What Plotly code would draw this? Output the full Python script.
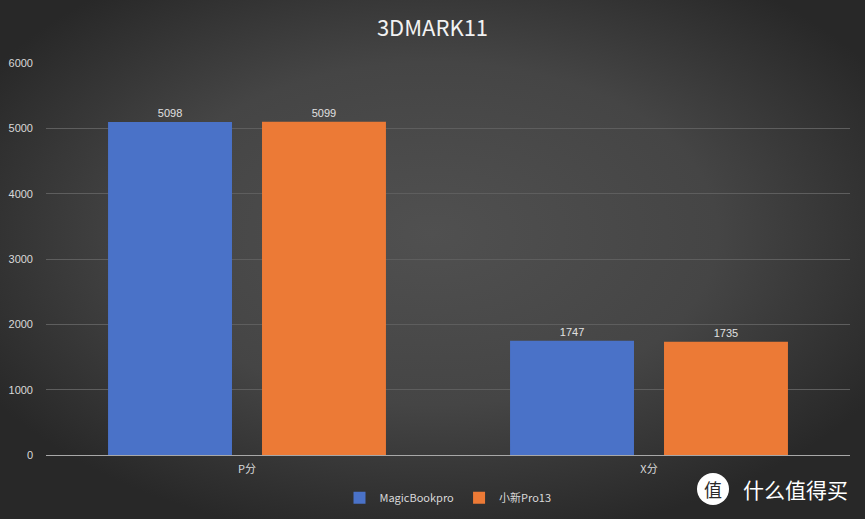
import base64
import plotly.graph_objects as go

categories = ["P分", "X分"]
series_names = ["MagicBookpro", "小新Pro13"]
magicbook = [5098, 1747]
xiaoxin = [5099, 1735]
y_ticks = [0, 1000, 2000, 3000, 4000, 5000, 6000]
title = "3DMARK11"

W, H = 865, 519
ML, MR, MT, MB = 46, 15, 63, 64
PW, PH = W - ML - MR, H - MT - MB

svg = f'''<svg xmlns="http://www.w3.org/2000/svg" width="{W}" height="{H}" viewBox="0 0 {W} {H}" preserveAspectRatio="none">
<defs><radialGradient id="g" cx="50%" cy="45%" r="60%">
<stop offset="0%" stop-color="#505050"/><stop offset="55%" stop-color="#454545"/><stop offset="100%" stop-color="#282828"/>
</radialGradient></defs><rect width="{W}" height="{H}" fill="url(#g)"/></svg>'''
bg_uri = "data:image/svg+xml;base64," + base64.b64encode(svg.encode()).decode()

tick_font = dict(family="Liberation Sans, DejaVu Sans", size=11, color="#d9d9d9")
label_font = dict(family="Liberation Sans, DejaVu Sans", size=11, color="#e0e0e0")

fig = go.Figure()
fig.add_trace(go.Bar(
    name=series_names[0], x=categories, y=magicbook,
    marker=dict(color="#4a72c8", line=dict(width=0)),
    text=[str(v) for v in magicbook], textposition="outside",
    textfont=label_font, cliponaxis=False,
))
fig.add_trace(go.Bar(
    name=series_names[1], x=categories, y=xiaoxin,
    marker=dict(color="#ec7a36", line=dict(width=0)),
    text=[str(v) for v in xiaoxin], textposition="outside",
    textfont=label_font, cliponaxis=False,
))

wm_y = -(489 - 455) / PH
fig.update_layout(
    width=W, height=H,
    margin=dict(l=ML, r=MR, t=MT, b=MB, autoexpand=False),
    paper_bgcolor="#383838",
    plot_bgcolor="rgba(0,0,0,0)",
    barmode="group",
    bargap=0.234,
    bargroupgap=0.195,
    title=dict(text=title, x=0.5, xanchor="center", y=0.945, yanchor="middle",
               font=dict(family="Noto Sans CJK SC", size=22, color="#f2f2f2")),
    images=[dict(source=bg_uri, xref="paper", yref="paper",
                 x=-ML / PW, y=1 + MT / PH, sizex=W / PW, sizey=H / PH,
                 xanchor="left", yanchor="top", sizing="stretch", layer="below")],
    xaxis=dict(showgrid=False, tickfont=dict(family="Noto Sans CJK SC", size=11, color="#d9d9d9"),
               showline=False, ticks="", ticklabelstandoff=6),
    yaxis=dict(range=[0, 6000], tickvals=y_ticks, showgrid=True, gridcolor="#5e5e5e",
               gridwidth=1, zeroline=True, zerolinecolor="#a8a8a8", zerolinewidth=1,
               tickfont=tick_font, ticks="", ticklabelstandoff=12),
    legend=dict(orientation="h", x=0.5, xanchor="center", y=-0.072, yanchor="top",
                font=dict(family="Noto Sans CJK SC", size=11, color="#d9d9d9"),
                bgcolor="rgba(0,0,0,0)", itemwidth=30, traceorder="normal"),
    showlegend=True,
    shapes=[dict(type="circle", xref="paper", yref="paper",
                 x0=(697 - ML) / PW, x1=(729 - ML) / PW,
                 y0=-(505 - 455) / PH, y1=-(473 - 455) / PH,
                 fillcolor="#ffffff", line=dict(width=0))],
    annotations=[
        dict(text="值", xref="paper", yref="paper", x=(713 - ML) / PW, y=wm_y,
             showarrow=False, font=dict(family="Noto Sans CJK SC", size=18, color="#2a2a2a"),
             xanchor="center", yanchor="middle"),
        dict(text="什么值得买", xref="paper", yref="paper", x=(795 - ML) / PW, y=wm_y,
             showarrow=False, font=dict(family="Noto Sans CJK SC", size=21, color="#ffffff"),
             xanchor="center", yanchor="middle"),
    ],
)

fig.write_html("out.html", config={"displayModeBar": False},
               post_script="document.body.style.margin='0';document.body.style.background='#282828';")
